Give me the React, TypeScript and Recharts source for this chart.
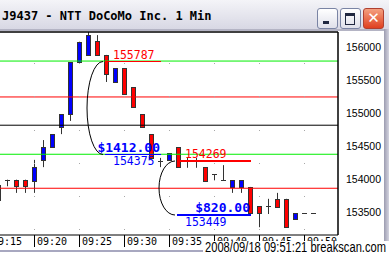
import React from "react";
import {
  Bar,
  ComposedChart,
  ReferenceDot,
  ReferenceLine,
  XAxis,
  YAxis,
} from "recharts";

// one-minute candles, minutes after 09:00
const MINUTES = [16, 17, 18, 19, 20, 21, 22, 23, 24, 25, 26, 27, 28, 29, 30, 31, 32, 33, 34, 35, 36, 37, 38, 39, 40, 41, 42, 43, 44, 45, 46, 47, 48, 49, 50, 51];
const OPEN = [153910, 153990, 153990, 153990, 153970, 154290, 154480, 154790, 154980, 155770, 155880, 156090, 155880, 155470, 155680, 155390, 154980, 154680, 154270, 154290, 154480, 154270, 154270, 154180, 154070, 153980, 153880, 153880, 153880, 153590, 153590, 153700, 153700, 153390, 153480, 153480];
const HIGH = [153910, 153990, 153990, 153990, 154290, 154590, 154680, 154980, 155770, 156080, 156300, 156180, 155880, 155680, 155680, 155390, 154980, 154680, 154320, 154390, 154480, 154320, 154320, 154180, 154070, 154210, 153980, 153980, 153880, 153590, 153700, 153790, 153700, 153480, 153480, 153480];
const LOW = [153680, 153890, 153790, 153790, 153790, 154180, 154480, 154680, 154880, 155770, 155880, 155880, 155470, 155470, 155290, 155090, 154790, 154320, 154180, 154290, 154180, 154170, 154170, 153970, 153980, 153980, 153790, 153790, 153480, 153270, 153470, 153580, 153270, 153390, 153480, 153480];
const CLOSE = [153680, 153990, 153890, 153890, 154180, 154480, 154680, 154980, 155770, 156080, 156180, 155880, 155590, 155680, 155290, 155090, 154790, 154320, 154270, 154390, 154180, 154270, 154270, 153970, 154070, 153980, 153980, 153980, 153480, 153480, 153590, 153580, 153270, 153480, 153480, 153480];

const TIME_TICKS = [15, 20, 25, 30, 35, 40, 45, 50];
const PRICE_TICKS = [153500, 154000, 154500, 155000, 155500, 156000];
const GRID_TIMES = [20, 25, 30, 35, 40, 45, 50];
const GRID_LEVELS = [155750, 155250, 154750, 154250, 153750, 153250];

// horizontal levels drawn across the whole chart
const LEVELS = [155787, 155243, 154815, 154375, 153860];

// price measurements (start/end minute, top/bottom price)
const MEASURE_START = [27.85, 35.84];
const MEASURE_END = [34.06, 44.05];
const MEASURE_TOP = [155787, 154269];
const MEASURE_BOTTOM = [154375, 153449];

const X_DOMAIN = [16.25, 53.75];
const Y_DOMAIN = [153152, 156227];

const TITLE = "J9437 - NTT DoCoMo Inc. 1 Min";
const STAMP = "2008/09/18 09:51:21 breakscan.com";

const LEVEL_COLORS = ["#00ee00", "#ff0000", "#000000", "#00ee00", "#ff0000"];
const UP = "#0000ff";
const DOWN = "#ff0000";
const EDGE = "#333333";

const candles = MINUTES.map((t, i) => ({
  t,
  open: OPEN[i],
  high: HIGH[i],
  low: LOW[i],
  close: CLOSE[i],
  range: [LOW[i], HIGH[i]],
}));

function Candle(props: any) {
  const { x, y, width, height, payload } = props;
  if (x == null || payload == null) return null;
  const { open, high, low, close } = payload;
  const cx = Math.round(x + width / 2) + 0.5;
  const k = high > low ? height / (high - low) : 0;
  const toY = (v: number) => y + (high - v) * k;
  const top = Math.round(toY(Math.max(open, close))) + 0.5;
  const bottom = Math.round(toY(Math.min(open, close))) + 0.5;
  return (
    <g>
      {high > low && (
        <line x1={cx} x2={cx} y1={toY(high)} y2={toY(low)} stroke={EDGE} />
      )}
      {open === close ? (
        <line x1={cx - 2.5} x2={cx + 2.5} y1={top} y2={top} stroke={EDGE} />
      ) : (
        <rect
          x={cx - 2}
          y={top}
          width={4}
          height={bottom - top}
          fill={close > open ? UP : DOWN}
          stroke={EDGE}
        />
      )}
    </g>
  );
}

function TimeTick({ x, y, payload }: any) {
  const px = Math.round(x) + 0.5;
  const label = `09:${String(payload.value).padStart(2, "0")}`;
  return (
    <g>
      <line x1={px} x2={px} y1={y} y2={y + 12} stroke="#000" />
      <text
        x={px + 2.5}
        y={y + 10}
        fontSize={10}
        fontFamily="DejaVu Sans Mono"
        fill="#000"
      >
        {label}
      </text>
    </g>
  );
}

function PriceTick({ x, y, payload }: any) {
  return (
    <text
      x={x + 8}
      y={y + 4}
      fontSize={10.5}
      fontFamily="Liberation Sans"
      fill="#000"
    >
      {payload.value}
    </text>
  );
}

function GridDot({ cx, cy }: any) {
  return <rect x={Math.round(cx)} y={Math.round(cy)} width={1} height={1} fill="#a8a8a8" />;
}

function makeMeasure(i: number, thick: boolean) {
  return function Measure({ x1, y1, x2, y2 }: any) {
    const sx = Math.round(x1);
    const ex = Math.round(x2);
    const ty = Math.round(y1) + (thick ? 0 : 0.5);
    const by = Math.round(y2) + (thick ? 0 : 0.5);
    const sw = thick ? 2 : 1;
    const ry = (by - ty) / 2;
    const diff = MEASURE_TOP[i] - MEASURE_BOTTOM[i];
    return (
      <g>
        <path
          d={`M ${sx - 2} ${ty} A 16 ${ry} 0 0 0 ${sx - 2} ${by}`}
          fill="none"
          stroke="#000"
        />
        <line x1={sx} x2={ex} y1={ty} y2={ty} stroke="#ff0000" strokeWidth={sw} />
        <line x1={sx} x2={ex} y1={by} y2={by} stroke="#0000ff" strokeWidth={sw} />
        <text
          x={sx + 8}
          y={ty - 3}
          fontSize={11.5}
          fontFamily="DejaVu Sans Mono"
          fill="#ff0000"
        >
          {MEASURE_TOP[i]}
        </text>
        <text
          x={ex - 1}
          y={by - 3}
          textAnchor="end"
          fontSize={13}
          fontWeight="bold"
          fontFamily="DejaVu Sans Mono"
          fill="#0000ff"
        >
          {`$${diff.toFixed(2)}`}
        </text>
        <text
          x={sx + 8}
          y={by + 10.5}
          fontSize={11.5}
          fontFamily="DejaVu Sans Mono"
          fill="#0000ff"
        >
          {MEASURE_BOTTOM[i]}
        </text>
      </g>
    );
  };
}

function TitleBar() {
  const btn: React.CSSProperties = {
    position: "absolute",
    top: 8,
    width: 19,
    height: 19,
    borderRadius: 3,
    border: "1px solid #7a84a4",
    background: "linear-gradient(#ffffff, #dfe0ea)",
  };
  return (
    <div
      style={{
        position: "absolute",
        left: 0,
        top: 0,
        width: 389,
        height: 29,
        background: "linear-gradient(#f4f4f8, #d8d8e4)",
        borderBottom: "2px solid #b4b4c4",
      }}
    >
      <div
        style={{
          position: "absolute",
          left: 2,
          top: 9,
          fontFamily: "DejaVu Sans Mono",
          fontWeight: "bold",
          fontSize: 12,
          lineHeight: "14px",
          color: "#000",
          whiteSpace: "nowrap",
        }}
      >
        {TITLE}
      </div>
      <div style={{ ...btn, left: 317 }}>
        <div style={{ position: "absolute", left: 5, top: 12, width: 6, height: 3, background: "#202840" }} />
      </div>
      <div style={{ ...btn, left: 340 }}>
        <div style={{ position: "absolute", left: 4, top: 4, width: 8, height: 8, border: "1px solid #202840", borderTopWidth: 3 }} />
      </div>
      <div
        style={{
          ...btn,
          left: 363,
          border: "1px solid #b04030",
          background: "linear-gradient(#f4a080, #e04020)",
          color: "#fff",
          fontFamily: "DejaVu Sans",
          fontWeight: "bold",
          fontSize: 15,
          lineHeight: "19px",
          textAlign: "center",
        }}
      >
        ✕
      </div>
    </div>
  );
}

export default function App() {
  return (
    <div
      style={{
        position: "absolute",
        left: 0,
        top: 0,
        width: 389,
        height: 253,
        overflow: "hidden",
        background: "#fff",
      }}
    >
      <ComposedChart
        width={389}
        height={253}
        data={candles}
        margin={{ top: 32, right: 0, bottom: 0, left: 0 }}
      >
        <XAxis
          dataKey="t"
          type="number"
          domain={X_DOMAIN}
          ticks={TIME_TICKS}
          interval={0}
          allowDataOverflow
          height={18}
          tickSize={0}
          tickMargin={0}
          tickLine={false}
          axisLine={{ stroke: "#000" }}
          tick={<TimeTick />}
        />
        <YAxis
          type="number"
          orientation="right"
          domain={Y_DOMAIN}
          ticks={PRICE_TICKS}
          interval={0}
          allowDataOverflow
          width={51}
          tickSize={0}
          tickMargin={0}
          tickLine={false}
          axisLine={{ stroke: "#000", strokeWidth: 1.5 }}
          tick={<PriceTick />}
        />
        <ReferenceLine y={Y_DOMAIN[1]} stroke="#000" strokeWidth={1.5} />
        {GRID_TIMES.map((t) =>
          GRID_LEVELS.map((v) => (
            <ReferenceDot key={`${t}-${v}`} x={t} y={v} r={1} shape={<GridDot />} />
          ))
        )}
        {LEVELS.map((v, i) => (
          <ReferenceLine key={v} y={v} stroke={LEVEL_COLORS[i]} />
        ))}
        <Bar
          dataKey="range"
          barSize={7}
          shape={<Candle />}
          isAnimationActive={false}
        />
        {MEASURE_START.map((s, i) => (
          <ReferenceLine
            key={s}
            segment={[
              { x: s, y: MEASURE_TOP[i] },
              { x: MEASURE_END[i], y: MEASURE_BOTTOM[i] },
            ]}
            shape={makeMeasure(i, i === MEASURE_START.length - 1)}
          />
        ))}
      </ComposedChart>
      <TitleBar />
      <div style={{ position: "absolute", left: 384, top: 29, width: 5, height: 224, background: "linear-gradient(90deg, #9c9cb0, #d4d4e0)" }} />
      <div style={{ position: "absolute", left: 0, top: 250, width: 384, height: 2, background: "#a8a8c0" }} />
      <svg
        width={389}
        height={253}
        style={{ position: "absolute", left: 0, top: 0, pointerEvents: "none" }}
      >
        <rect x={203} y={241} width={186} height={12} fill="#fff" />
        <text
          x={205}
          y={251.5}
          fontSize={14}
          fontFamily="Liberation Sans"
          textLength={181}
          lengthAdjust="spacingAndGlyphs"
          fill="#000"
        >
          {STAMP}
        </text>
      </svg>
    </div>
  );
}
